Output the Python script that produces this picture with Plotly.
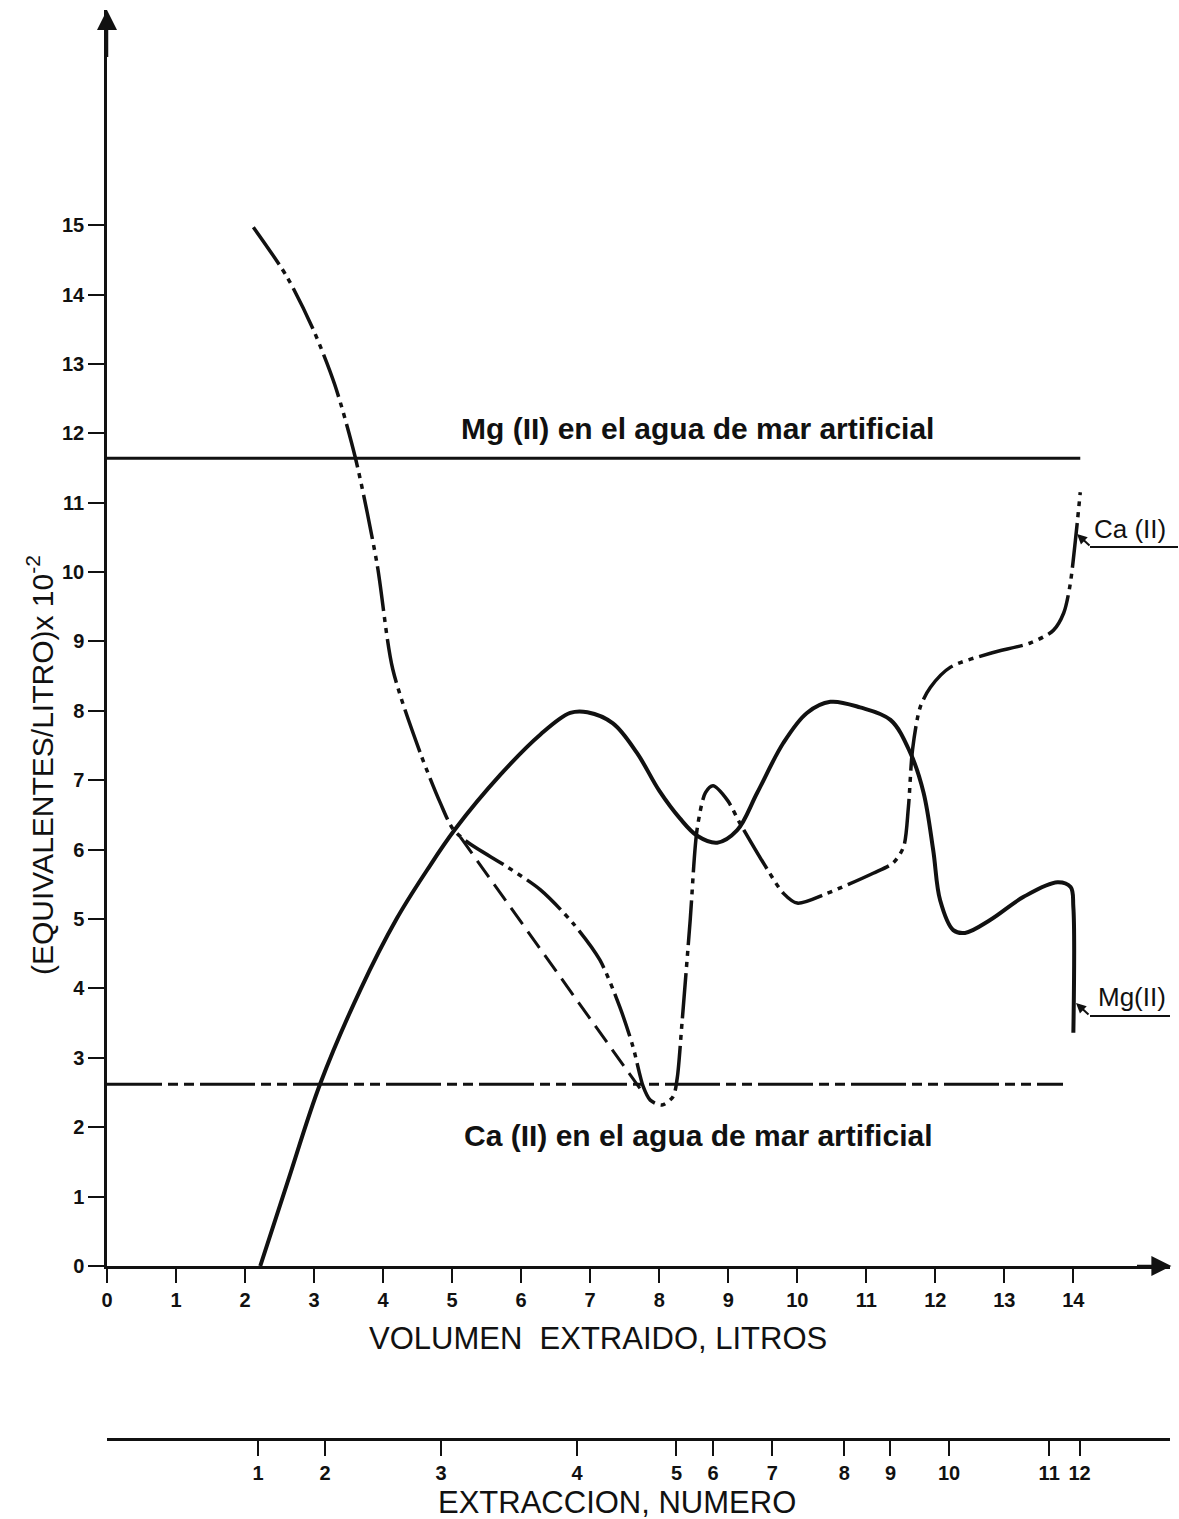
import plotly.graph_objects as go

# ---------------- data ----------------
mg_x = [2.22, 2.61, 3.09, 3.67, 4.20, 4.64, 5.04, 5.70, 6.28, 6.71, 6.96, 7.33, 7.68, 8.00,
        8.30, 8.55, 8.84, 9.13, 9.42, 9.80, 10.14, 10.48, 10.91, 11.35, 11.64, 11.83, 11.97,
        12.07, 12.26, 12.43, 12.80, 13.28, 13.77, 13.96, 14.00, 14.00]
mg_y = [0.00, 1.19, 2.63, 3.98, 5.01, 5.71, 6.29, 7.08, 7.66, 7.97, 7.98, 7.82, 7.39, 6.85,
        6.45, 6.20, 6.10, 6.28, 6.82, 7.54, 7.97, 8.13, 8.05, 7.87, 7.39, 6.82, 5.99,
        5.27, 4.84, 4.80, 4.99, 5.32, 5.53, 5.46, 5.17, 3.36]

ca_x = [2.12, 2.61, 2.99, 3.30, 3.60, 3.91, 4.14, 4.54, 4.83, 5.01, 5.22, 5.80, 6.28, 6.75,
        7.14, 7.43, 7.62, 7.77, 7.87, 8.04, 8.20, 8.26, 8.33, 8.45, 8.55, 8.67, 8.78, 8.99,
        9.17, 9.57, 9.80, 10.00, 10.43, 11.10, 11.39, 11.54, 11.61, 11.67, 11.78, 11.93,
        12.22, 12.80, 13.38, 13.71, 13.86, 13.95, 14.03, 14.10]
ca_y = [14.97, 14.25, 13.49, 12.70, 11.64, 10.13, 8.60, 7.39, 6.67, 6.30, 6.11, 5.75, 5.42, 4.94,
        4.41, 3.73, 3.16, 2.58, 2.39, 2.32, 2.44, 2.70, 3.50, 5.00, 6.30, 6.82, 6.92, 6.71,
        6.38, 5.71, 5.37, 5.23, 5.37, 5.66, 5.81, 6.04, 6.61, 7.44, 8.05, 8.34,
        8.63, 8.83, 8.98, 9.16, 9.41, 9.80, 10.46, 11.15]

ca_alt_x = [5.12, 7.72]
ca_alt_y = [6.18, 2.56]

mg_mar_x = [0.0, 14.1]
mg_mar_y = [11.64, 11.64]
ca_mar_x = [0.0, 13.85]
ca_mar_y = [2.62, 2.62]

vol_ticks = list(range(0, 15))
y_ticks = list(range(0, 16))
extr_pos = [2.19, 3.16, 4.84, 6.81, 8.25, 8.78, 9.64, 10.68, 11.35, 12.20, 13.65, 14.09]
extr_labels = [str(i) for i in range(1, 13)]

# ---------------- layout geometry ----------------
W, H = 1179, 1519
L, R_PX, T, B_PX = 107, 1170, 10, 1439
X_MAX = 15.4
Y0_PX = 1266
Y_MAX = 18.1
ydom0 = (B_PX - Y0_PX) / (B_PX - T)


def px_x(p):
    return (p - L) / (R_PX - L)


def px_y(p):
    return (B_PX - p) / (B_PX - T)


FONT = "Liberation Sans"
BLACK = "#111111"

fig = go.Figure()
fig.add_trace(go.Scatter(x=mg_mar_x, y=mg_mar_y, mode="lines",
                         line=dict(color=BLACK, width=3), showlegend=False))
fig.add_trace(go.Scatter(x=ca_mar_x, y=ca_mar_y, mode="lines",
                         line=dict(color=BLACK, width=3, dash="55px,6px,10px,6px,10px,6px"),
                         showlegend=False))
fig.add_trace(go.Scatter(x=ca_alt_x, y=ca_alt_y, mode="lines",
                         line=dict(color=BLACK, width=3, dash="20px,9px"), showlegend=False))
fig.add_trace(go.Scatter(x=ca_x, y=ca_y, mode="lines",
                         line=dict(color=BLACK, width=3.5, shape="spline", smoothing=0.8,
                                   dash="45px,6px,5px,6px,5px,6px"),
                         showlegend=False))
fig.add_trace(go.Scatter(x=mg_x, y=mg_y, mode="lines",
                         line=dict(color=BLACK, width=4, shape="spline", smoothing=1.0),
                         showlegend=False))
# carrier for the extraction axis
fig.add_trace(go.Scatter(x=extr_pos, y=[None] * len(extr_pos), xaxis="x2", yaxis="y",
                         mode="lines", showlegend=False, hoverinfo="skip"))

tickfont = dict(family=FONT, size=20, color=BLACK, weight="bold")

fig.update_layout(
    width=W, height=H,
    margin=dict(l=L, r=W - R_PX, t=T, b=H - B_PX, pad=0),
    paper_bgcolor="white", plot_bgcolor="white",
    xaxis=dict(range=[0, X_MAX], domain=[0, 1], anchor="y", tickvals=vol_ticks,
               ticktext=[str(v) for v in vol_ticks],
               showline=True, linecolor=BLACK, linewidth=2.5, ticks="outside", ticklen=14,
               tickwidth=2, tickcolor=BLACK, showgrid=False, zeroline=False,
               tickfont=tickfont),
    xaxis2=dict(range=[0, X_MAX], overlaying="x", anchor="free", position=0, side="bottom",
                tickvals=extr_pos, ticktext=extr_labels,
                showline=True, linecolor=BLACK, linewidth=2.5, ticks="outside", ticklen=15,
                tickwidth=2, tickcolor=BLACK, showgrid=False, zeroline=False,
                tickfont=tickfont),
    yaxis=dict(range=[0, Y_MAX], domain=[ydom0, 1], tickvals=y_ticks,
               ticktext=[str(v) for v in y_ticks],
               showline=True, linecolor=BLACK, linewidth=2.5, ticks="outside", ticklen=16,
               tickwidth=2, tickcolor=BLACK, showgrid=False, zeroline=False,
               tickfont=tickfont),
)

ann = []
# axis arrows
ann.append(dict(x=X_MAX + 0.02, y=0, ax=X_MAX - 0.5, ay=0, xref="x", yref="y", axref="x", ayref="y",
                showarrow=True, arrowhead=2, arrowsize=1.6, arrowwidth=2.5, arrowcolor=BLACK, text=""))
ann.append(dict(x=0, y=Y_MAX, ax=0, ay=Y_MAX - 0.7, xref="x", yref="y", axref="x", ayref="y",
                showarrow=True, arrowhead=2, arrowsize=1.6, arrowwidth=2.5, arrowcolor=BLACK, text=""))
# titles
ann.append(dict(x=px_x(598), y=px_y(1338), xref="paper", yref="paper", showarrow=False,
                text="VOLUMEN  EXTRAIDO, LITROS", font=dict(family=FONT, size=31, color=BLACK),
                xanchor="center", yanchor="middle"))
ann.append(dict(x=px_x(617), y=px_y(1502), xref="paper", yref="paper", showarrow=False,
                text="EXTRACCION, NUMERO", font=dict(family=FONT, size=31, color=BLACK),
                xanchor="center", yanchor="middle"))
ann.append(dict(x=px_x(40), y=px_y(765), xref="paper", yref="paper", showarrow=False,
                text="(EQUIVALENTES/LITRO)x 10<sup>-2</sup>", textangle=-90,
                font=dict(family=FONT, size=30, color=BLACK),
                xanchor="center", yanchor="middle"))
ann.append(dict(x=px_x(697), y=px_y(428), xref="paper", yref="paper", showarrow=False,
                text="Mg (II) en el agua de mar artificial",
                font=dict(family=FONT, size=30, color=BLACK, weight="bold"),
                xanchor="center", yanchor="middle"))
ann.append(dict(x=px_x(698), y=px_y(1135), xref="paper", yref="paper", showarrow=False,
                text="Ca (II) en el agua de mar artificial",
                font=dict(family=FONT, size=30, color=BLACK, weight="bold"),
                xanchor="center", yanchor="middle"))
# curve labels
ann.append(dict(x=px_x(1092), y=px_y(529), xref="paper", yref="paper", showarrow=False,
                text="Ca (II)", font=dict(family=FONT, size=26, color=BLACK),
                xanchor="left", yanchor="middle"))
ann.append(dict(x=px_x(1096), y=px_y(997), xref="paper", yref="paper", showarrow=False,
                text="Mg(II)", font=dict(family=FONT, size=26, color=BLACK),
                xanchor="left", yanchor="middle"))
ann.append(dict(x=px_x(1077), y=px_y(534), xref="paper", yref="paper", ax=14, ay=13,
                showarrow=True, arrowhead=2, arrowsize=1, arrowwidth=2, arrowcolor=BLACK, text=""))
ann.append(dict(x=px_x(1076), y=px_y(1003), xref="paper", yref="paper", ax=14, ay=13,
                showarrow=True, arrowhead=2, arrowsize=1, arrowwidth=2, arrowcolor=BLACK, text=""))
fig.update_layout(annotations=ann)

shapes = [
    dict(type="line", xref="paper", yref="paper", x0=px_x(1090), x1=px_x(1178),
         y0=px_y(547), y1=px_y(547), line=dict(color=BLACK, width=2)),
    dict(type="line", xref="paper", yref="paper", x0=px_x(1090), x1=px_x(1170),
         y0=px_y(1016), y1=px_y(1016), line=dict(color=BLACK, width=2)),
]
fig.update_layout(shapes=shapes)

fig.write_html("out.html")
